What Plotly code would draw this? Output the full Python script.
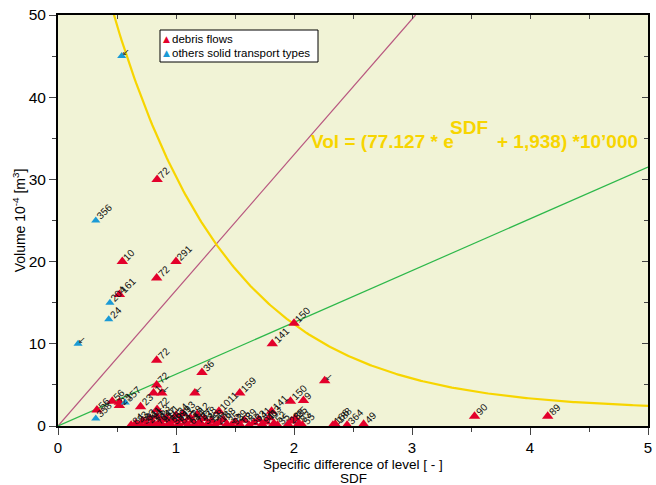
import numpy as np
import plotly.graph_objects as go

# ---------------- data ----------------
# debris flows (red)
debris_x = [0.84, 0.545, 1.00, 0.836, 0.52, 2.00, 1.816, 2.26, 1.97, 2.08, 3.53, 4.15,
            0.836, 1.22, 0.836, 0.81, 0.88, 1.16, 1.54, 1.364, 0.33, 0.46, 0.52, 0.52, 0.70, 0.84,
            0.62, 0.66, 0.70, 0.72, 0.75, 0.78, 0.80, 0.82, 0.84, 0.86, 0.88, 0.90, 0.92, 0.94,
            0.96, 0.98, 1.00, 1.02, 1.04, 1.06, 1.08, 1.10, 1.12, 1.14, 1.16, 1.18, 1.20, 1.22,
            1.24, 1.27, 1.30, 1.33, 1.36, 1.40, 1.43, 1.47, 1.50, 1.54, 1.58, 1.62, 1.66, 1.70,
            1.73, 1.76, 1.79, 1.81, 1.83, 1.86, 1.95, 1.98, 2.01, 2.04, 2.07, 2.33, 2.35, 2.45, 2.59]
debris_y = [30.0, 20.0, 20.0, 18.0, 16.0, 12.5, 10.0, 5.5, 3.0, 3.1, 1.2, 1.2,
            8.0, 6.5, 5.0, 4.0, 4.0, 4.0, 4.0, 1.8, 1.95, 3.0, 2.5, 2.9, 2.35, 2.0,
            0.1, 0.3, 0.1, 0.6, 0.2, 0.9, 0.4, 0.1, 1.2, 0.5, 0.2, 0.8, 1.0, 0.3,
            0.1, 0.6, 1.3, 0.2, 0.8, 1.5, 0.4, 0.1, 1.0, 0.6, 0.2, 1.4, 0.5, 0.1,
            0.9, 0.3, 0.6, 0.1, 0.4, 0.8, 0.2, 0.1, 0.5, 0.2, 0.7, 0.1, 0.4, 0.8,
            0.2, 0.5, 1.0, 1.8, 0.3, 0.1, 0.2, 0.6, 0.9, 0.3, 0.1, 0.1, 0.2, 0.1, 0.2]
debris_labels = ["72", "10", "291", "72", "161", "150", "141", "↙", "150", "9", "90", "89",
                 "72", "36", "72", "1", "↙", "↙", "159", "1011", "56", "56", "23", "", "23", "72",
                 "84", "23", "33", "83", "291", "11", "13", "72", "53", "64", "41", "17", "91", "56",
                 "38", "99", "34", "83", "21", "93", "13", "61", "28", "44", "73", "12", "87", "33",
                 "38", "19", "58", "27", "18", "68", "35", "93", "29", "62", "89", "33", "53", "41",
                 "91", "41", "63", "141", "52", "35", "28", "38", "35", "83", "55", "166", "188", "364", "49"]

# other solid transport types (blue)
other_x = [0.54, 0.32, 0.44, 0.43, 0.17, 0.32, 0.57]
other_y = [45.0, 25.0, 15.0, 13.0, 10.0, 0.9, 2.85]
other_labels = ["↙", "356", "204", "24", "↙", "358", "357"]

# reference lines
green_x = [0, 5]
green_y = [0, 31.5]
purple_x = [0, 3.03]
purple_y = [0, 50]
FIT_A = 77.127
FIT_B = 1.938

x_ticks = [0, 1, 2, 3, 4, 5]
y_ticks = [0, 10, 20, 30, 40, 50]

series_names = ["debris flows", "others solid transport types"]
x_title_lines = ["Specific difference of level [ - ]", "SDF"]

# ---------------- figure ----------------
RED = "#E3002B"
BLUE = "#1A9AD6"
YELLOW = "#F7D500"
FONT = "Arial, Liberation Sans, sans-serif"

W, H = 656, 485
L, R, T, B = 58, 8, 15, 59
PW, PH = W - L - R, H - T - B


def px_x(p):
    return (p - L) / PW


def px_y(p):
    return (H - B - p) / PH


fit_x = np.linspace(0.4, 5, 300)
fit_y = FIT_A * np.exp(-fit_x) + FIT_B

fig = go.Figure()
fig.add_trace(go.Scatter(x=purple_x, y=purple_y, mode="lines",
                         line=dict(color="#B8577F", width=1.2), showlegend=False))
fig.add_trace(go.Scatter(x=green_x, y=green_y, mode="lines",
                         line=dict(color="#2DB84A", width=1.2), showlegend=False))
fig.add_trace(go.Scatter(x=fit_x, y=fit_y, mode="lines",
                         line=dict(color=YELLOW, width=2.2), showlegend=False))
fig.add_trace(go.Scatter(x=debris_x, y=debris_y, mode="markers", name=series_names[0],
                         showlegend=False,
                         marker=dict(symbol="triangle-up", size=10, color=RED, line=dict(width=0))))
fig.add_trace(go.Scatter(x=other_x, y=other_y, mode="markers", name=series_names[1],
                         showlegend=False,
                         marker=dict(symbol="triangle-up", size=8, color=BLUE, line=dict(width=0))))
# dummy for mirrored inside ticks
fig.add_trace(go.Scatter(x=[None], y=[None], xaxis="x2", yaxis="y2", showlegend=False,
                         hoverinfo="skip"))

annotations = []
for xs, ys, labs in [(debris_x, debris_y, debris_labels), (other_x, other_y, other_labels)]:
    for xv, yv, lab in zip(xs, ys, labs):
        if not lab:
            continue
        if lab == "↙":
            annotations.append(dict(x=xv, y=yv, text="↙", showarrow=False, xanchor="left",
                                    yanchor="bottom", xshift=-2, yshift=-3,
                                    font=dict(size=9, color="#222", family=FONT)))
        else:
            annotations.append(dict(x=xv, y=yv, text=lab, showarrow=False, textangle=-45,
                                    xanchor="left", yanchor="bottom", xshift=-4, yshift=-4,
                                    font=dict(size=10, color="#111", family=FONT)))

# equation
eq_font = dict(size=19, color=YELLOW, family=FONT)
annotations += [
    dict(xref="paper", yref="paper", x=px_x(309), y=px_y(141),
         text="<b>Vol = (77.127 * e</b>", showarrow=False, xanchor="left", yanchor="middle",
         font=eq_font),
    dict(xref="paper", yref="paper", x=px_x(448), y=px_y(127),
         text="<b>SDF</b>", showarrow=False, xanchor="left", yanchor="middle", font=eq_font),
    dict(xref="paper", yref="paper", x=px_x(495), y=px_y(141),
         text="<b>+ 1,938) *10’000</b>", showarrow=False, xanchor="left", yanchor="middle",
         font=eq_font),
]

# x axis title (two lines)
for txt, yc in zip(x_title_lines, [464, 478]):
    annotations.append(dict(xref="paper", yref="paper", x=0.5, y=px_y(yc), text=txt,
                            showarrow=False, xanchor="center", yanchor="middle",
                            font=dict(size=13.5, color="black", family=FONT)))

# manual legend
leg_font = dict(size=11.5, color="black", family=FONT)
for i, (name, col) in enumerate(zip(series_names, [RED, BLUE])):
    yc = 39 + 14 * i
    annotations.append(dict(xref="paper", yref="paper", x=px_x(166), y=px_y(yc),
                            text="▲", showarrow=False, xanchor="center", yanchor="middle",
                            font=dict(size=9, color=col, family="DejaVu Sans")))
    annotations.append(dict(xref="paper", yref="paper", x=px_x(170), y=px_y(yc),
                            text=name, showarrow=False, xanchor="left", yanchor="middle",
                            font=leg_font))

shapes = [dict(type="rect", xref="paper", yref="paper", x0=px_x(160), x1=px_x(318),
               y0=px_y(62), y1=px_y(30), fillcolor="white", line=dict(color="black", width=1),
               layer="above")]

fig.update_layout(
    width=W, height=H,
    margin=dict(l=L, r=R, t=T, b=B),
    paper_bgcolor="white",
    plot_bgcolor="#F1F3D6",
    font=dict(family=FONT, color="black", size=12),
    annotations=annotations,
    shapes=shapes,
    showlegend=False,
    xaxis=dict(range=[0, 5], tickvals=x_ticks, ticks="outside", ticklen=7, tickcolor="#444",
               showline=True, linecolor="black", linewidth=2, mirror=True, automargin=False,
               showgrid=False, zeroline=False, tickfont=dict(size=15),
               minor=dict(dtick=0.5, ticks="outside", ticklen=4, tickcolor="#444")),
    yaxis=dict(range=[0, 50], tickvals=y_ticks, ticks="outside", ticklen=7, tickcolor="#444",
               showline=True, linecolor="black", linewidth=2, mirror=True, automargin=False,
               showgrid=False, zeroline=False, tickfont=dict(size=15.5),
               minor=dict(dtick=5, ticks="outside", ticklen=4, tickcolor="#444"),
               title=dict(text="Volume 10<sup>-4</sup> [m<sup>3</sup>]", font=dict(size=14),
                          standoff=0)),
    xaxis2=dict(range=[0, 5], overlaying="x", side="top", dtick=0.5, ticks="inside",
                ticklen=4, tickcolor="#444", showticklabels=False, showgrid=False,
                zeroline=False, showline=False, automargin=False),
    yaxis2=dict(range=[0, 50], overlaying="y", side="right", tickvals=y_ticks, ticks="inside",
                ticklen=6, tickcolor="#444", showticklabels=False, showgrid=False,
                zeroline=False, showline=False, automargin=False,
                minor=dict(dtick=5, ticks="inside", ticklen=4, tickcolor="#444")),
)

fig.write_html("out.html", config={"displayModeBar": False},
               post_script="document.body.style.margin='0';document.body.style.overflow='hidden';")
